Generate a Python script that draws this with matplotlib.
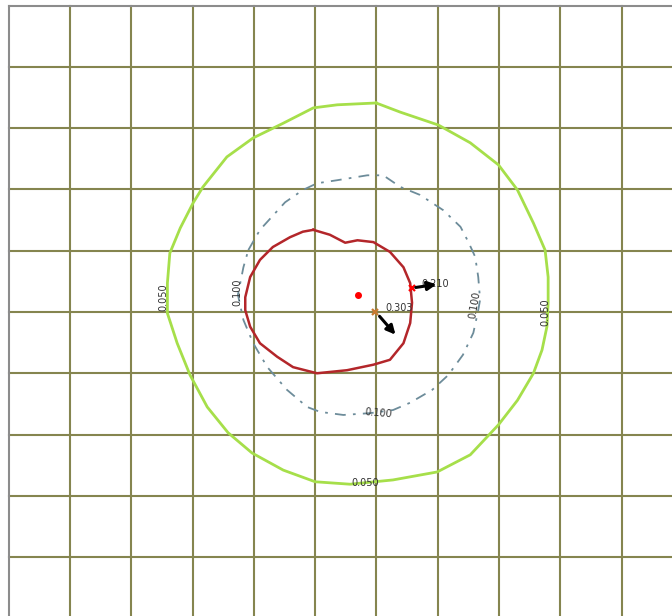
import matplotlib.pyplot as plt
import numpy as np

# contour lines, metres (grid spacing 10 m)
c050_x = [9.95, 13.9, 20.1, 25.3, 29.9, 33.0, 35.6, 37.5, 38.0, 38.0, 37.8, 37.0, 35.6, 33.0,
          29.9, 25.3, 19.9, 12.7, 5.7, 0.0, -5.2, -10.3, -14.2, -17.6, -20.4, -22.5, -24.1,
          -24.1, -23.7, -22.0, -19.9, -18.3, -14.4, -10.1, -5.2, -0.3, 3.6]
c050_y = [34.1, 32.6, 30.5, 27.6, 24.0, 19.9, 14.5, 10.1, 5.7, 1.5, -2.4, -6.2, -10.0, -14.4,
          -18.4, -23.3, -26.1, -27.4, -28.1, -27.7, -25.8, -23.0, -19.7, -15.5, -10.3, -5.1, -0.2,
          4.7, 9.6, 13.7, 17.8, 20.4, 25.3, 28.4, 30.8, 33.3, 33.8]

c100_x = [-10.9, -9.0, -4.9, -2.0, 0.3, 3.6, 8.5, 11.1, 13.9, 17.1, 20.9, 23.7, 25.0, 26.1,
          26.6, 26.9, 26.6, 25.8, 24.1, 21.7, 19.1, 15.5, 12.7, 9.0, 4.6, 0.8, -1.3, -4.6,
          -7.8, -10.1, -11.7, -12.6, -11.7]
c100_y = [10.1, 13.4, 17.9, 19.9, 21.0, 21.5, 22.3, 22.3, 20.4, 19.1, 16.6, 13.9, 11.4, 9.0,
          5.7, 2.0, 0.3, -3.4, -7.0, -10.3, -12.7, -14.8, -16.0, -16.5, -16.8, -16.3, -15.5, -12.7,
          -9.0, -5.1, -1.3, 2.8, 7.3]

c200_x = [-0.3, 2.4, 4.9, 6.9, 9.5, 12.2, 14.4, 15.5, 15.8, 15.5, 14.4, 12.2, 9.5, 5.2, 0.3,
          -3.6, -6.2, -9.0, -10.6, -11.4, -11.4, -10.6, -9.0, -6.9, -4.1, -2.0]
c200_y = [13.4, 12.6, 11.3, 11.7, 11.4, 9.8, 7.3, 4.7, 1.5, -1.8, -5.1, -7.8, -8.6, -9.5, -10.0,
          -9.0, -7.3, -5.1, -2.4, 0.3, 2.4, 5.7, 8.5, 10.6, 12.2, 13.1]

# source point and two receptor maxima
source = (7.0, 2.8)
max_points = [(15.8, 3.9), (9.8, 0.0)]
max_values = ["0.210", "0.303"]
max_colors = ["red", "#c87a30"]
arrow_tail = [(16.4, 4.0), (10.5, -0.7)]
arrow_head = [(19.8, 4.5), (13.1, -3.7)]

# contour labels: (x, y, text, rotation)
labels_050 = [(-24.8, 2.4, "0.050", 90), (37.6, 0.0, "0.050", 90), (8.2, -27.9, "0.050", 0)]
labels_100 = [(-12.7, 3.3, "0.100", 90), (26.1, 1.1, "0.100", 80), (10.3, -16.5, "0.100", -5)]


def closed(xs, ys):
    return np.r_[xs, xs[0]], np.r_[ys, ys[0]]


fig = plt.figure(figsize=(6.72, 6.16), dpi=100)
ax = fig.add_axes([0, 0, 1, 1])
ax.set_xlim(-51.4, 58.2)
ax.set_ylim(-49.6, 50.9)
ax.axis("off")

# grid, bounded by the frame on the left and top
for g in range(-40, 60, 10):
    ax.plot([g, g], [-60, 50], color="#85854f", lw=1.5, zorder=1)
for g in range(-40, 50, 10):
    ax.plot([-50, 60], [g, g], color="#85854f", lw=1.5, zorder=1)
ax.plot([-50, -50], [-60, 50], color="#8c8c8c", lw=1.5, zorder=1)
ax.plot([-50, 60], [50, 50], color="#8c8c8c", lw=1.5, zorder=1)

x, y = closed(c050_x, c050_y)
ax.plot(x, y, color="#a6df4a", lw=2.0, zorder=2)
x, y = closed(c100_x, c100_y)
ax.plot(x, y, color="#6d8c9a", lw=1.3, dashes=[6, 4, 1.5, 4], zorder=2)
x, y = closed(c200_x, c200_y)
ax.plot(x, y, color="#b3262a", lw=1.8, zorder=2)

for lx, ly, txt, rot in labels_050 + labels_100:
    ax.text(lx, ly, txt, fontsize=7, color="#333333", rotation=rot,
            ha="center", va="center", zorder=4)

ax.plot(*source, marker="o", ms=4, color="red", zorder=5)

for (px, py), val, col, tail, head in zip(max_points, max_values, max_colors,
                                          arrow_tail, arrow_head):
    ax.annotate("", xy=head, xytext=tail,
                arrowprops=dict(arrowstyle="-|>", color="black", lw=2.2,
                                mutation_scale=13, shrinkA=0, shrinkB=0),
                zorder=6)
    ax.plot(px, py, marker="x", ms=5, mew=1.6, color=col, zorder=5)
    ax.text(px + 1.6, py + 0.7, val, fontsize=7, color="#333333", ha="left",
            va="center", zorder=4)

plt.savefig("out.png", dpi=100)
